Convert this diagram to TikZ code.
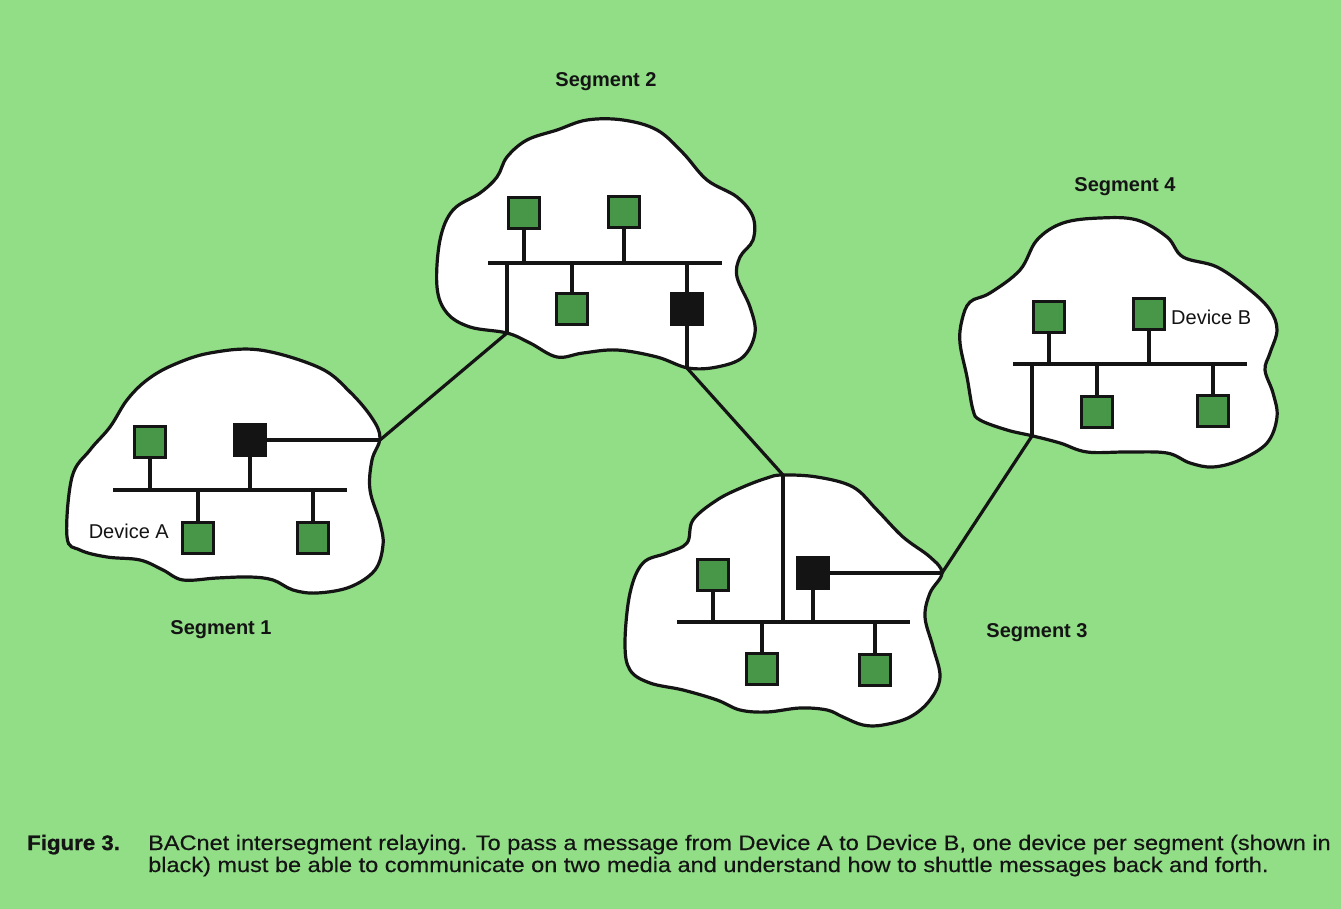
\documentclass[tikz,border=0pt]{standalone}
\usepackage{fontspec}
\setmainfont{Liberation Sans}
\newfontfamily\capfont[FakeStretch=1.12,FakeBold=0.4]{Liberation Sans}
\newfontfamily\capfontb[FakeStretch=1.06,FakeBold=1]{Liberation Sans Bold}
\definecolor{bggreen}{RGB}{145,222,135}
\definecolor{devgreen}{RGB}{72,150,72}
\definecolor{inkc}{RGB}{20,20,20}
\begin{document}
\begin{tikzpicture}[x=1pt,y=-1pt,
  dev/.style={draw=inkc,fill=devgreen,line width=3.2pt,minimum size=31pt,inner sep=0pt},
  relay/.style={dev,fill=inkc},
  cloudline/.style={draw=inkc,fill=white,line width=3.2pt},
  wire/.style={draw=inkc,line width=3.2pt},
  seglabel/.style={font=\bfseries\fontsize{20}{24}\selectfont,text=inkc,inner sep=0pt},
  devlabel/.style={font=\fontsize{20}{24}\selectfont,text=inkc,inner sep=0pt},
  captext/.style={font=\capfont\fontsize{21}{24}\selectfont,text=inkc,inner sep=0pt,anchor=base west}]
\useasboundingbox (0,0) rectangle (1341,909);
\fill[bggreen] (0,0) rectangle (1341,909);

% clouds
\draw[cloudline] plot[smooth cycle,tension=0.6] coordinates {
(67,537) (72,477) (90,450) (110,427) (127,400) (147,380) (173,365) (210,353) (260,350)
(320,368) (350,392) (372,418) (380,438) (372,460) (370,490) (380,523) (383,545) (375,570)
(350,587) (317,593) (293,590) (273,580) (250,577) (217,578) (183,580) (163,570) (140,560)
(107,557) (80,550)};
\draw[cloudline] plot[smooth cycle,tension=0.6] coordinates {
(437,287) (440,240) (453,210) (480,193) (497,177) (507,157) (527,140) (557,130) (587,120)
(623,120) (657,130) (683,153) (707,180) (737,197) (753,217) (753,240) (740,257) (737,277)
(750,307) (755,333) (743,357) (717,367) (688,368) (657,357) (617,350) (583,353) (557,357)
(530,343) (507,333) (470,327) (447,313)};
\draw[cloudline] plot[smooth cycle,tension=0.6] coordinates {
(782,475) (817,477) (853,487) (877,510) (903,537) (930,557) (942,573) (930,593) (925,617)
(933,647) (940,677) (930,700) (910,717) (883,725) (863,725) (843,717) (827,710) (800,708)
(767,712) (740,710) (717,700) (683,690) (650,683) (630,670) (625,643) (630,593) (643,563)
(667,553) (687,543) (693,520) (717,500) (743,487) (767,478)};
\draw[cloudline] plot[smooth cycle,tension=0.6] coordinates {
(1100,218) (1137,220) (1167,237) (1183,257) (1217,267) (1250,290) (1270,310) (1277,330)
(1270,353) (1265,370) (1273,393) (1277,417) (1267,443) (1240,460) (1213,467) (1190,463)
(1167,453) (1127,452) (1087,452) (1060,443) (1033,436) (1007,430) (980,420) (973,410)
(967,377) (960,343) (962,320) (970,302) (990,293) (1020,270) (1037,240) (1063,223)};

% segment 1
\coordinate (b1L) at (113,490); \coordinate (b1R) at (347,490);
\coordinate (c1out) at (380,440);
\node[dev]   (s1a) at (150,442) {};
\node[relay] (s1r) at (250,440) {};
\node[dev]   (s1b) at (198,538) {};
\node[dev]   (s1c) at (313,538) {};
\draw[wire] (b1L) -- (b1R);
\draw[wire] (s1a.south) -- (s1a.south |- b1L);
\draw[wire] (s1r.south) -- (s1r.south |- b1L);
\draw[wire] (s1b.north) -- (s1b.north |- b1L);
\draw[wire] (s1c.north) -- (s1c.north |- b1L);
\draw[wire] (s1r.east) -- (c1out);

% segment 2
\coordinate (b2L) at (488,263); \coordinate (b2R) at (722,263);
\coordinate (c2in) at (507,333); \coordinate (c2out) at (687,368);
\node[dev]   (s2a) at (524,213) {};
\node[dev]   (s2b) at (624,212) {};
\node[dev]   (s2c) at (572,309) {};
\node[relay] (s2r) at (687,309) {};
\draw[wire] (b2L) -- (b2R);
\draw[wire] (s2a.south) -- (s2a.south |- b2L);
\draw[wire] (s2b.south) -- (s2b.south |- b2L);
\draw[wire] (s2c.north) -- (s2c.north |- b2L);
\draw[wire] (s2r.north) -- (s2r.north |- b2L);
\draw[wire] (c2in |- b2L) -- (c2in);
\draw[wire] (s2r.south) -- (c2out);

% segment 3
\coordinate (b3L) at (677,622); \coordinate (b3R) at (910,622);
\coordinate (c3in) at (783,475); \coordinate (c3out) at (942,573);
\node[dev]   (s3a) at (713,575) {};
\node[relay] (s3r) at (813,573) {};
\node[dev]   (s3b) at (762,669) {};
\node[dev]   (s3c) at (875,670) {};
\draw[wire] (b3L) -- (b3R);
\draw[wire] (s3a.south) -- (s3a.south |- b3L);
\draw[wire] (s3r.south) -- (s3r.south |- b3L);
\draw[wire] (s3b.north) -- (s3b.north |- b3L);
\draw[wire] (s3c.north) -- (s3c.north |- b3L);
\draw[wire] (c3in) -- (c3in |- b3L);
\draw[wire] (s3r.east) -- (c3out);

% segment 4
\coordinate (b4L) at (1013,364); \coordinate (b4R) at (1247,364);
\coordinate (c4in) at (1032,436);
\node[dev] (s4a) at (1049,317) {};
\node[dev] (s4b) at (1149,314) {};
\node[dev] (s4c) at (1097,412) {};
\node[dev] (s4d) at (1213,411) {};
\draw[wire] (b4L) -- (b4R);
\draw[wire] (s4a.south) -- (s4a.south |- b4L);
\draw[wire] (s4b.south) -- (s4b.south |- b4L);
\draw[wire] (s4c.north) -- (s4c.north |- b4L);
\draw[wire] (s4d.north) -- (s4d.north |- b4L);
\draw[wire] (c4in |- b4L) -- (c4in);

% inter-segment links
\draw[wire] (c1out) -- (c2in);
\draw[wire] (c2out) -- (c3in);
\draw[wire] (c3out) -- (c4in);

% labels
\node[seglabel] (l2) at (606,82) {Segment 2};
\node[seglabel] (l4) at (1125,187) {Segment 4};
\node[seglabel] (l1) at (221,630) {Segment 1};
\node[seglabel] (l3) at (1037,633) {Segment 3};
\node[devlabel,anchor=east] (da) at (169,531) {Device A};
\node[devlabel,anchor=west] (db) at (1171,317) {Device B};

% caption
\node[captext,font=\capfontb\fontsize{21}{24}\selectfont] (fig) at (27,850) {Figure 3.};
\node[captext] (cap1) at (148,850) {BACnet intersegment relaying. To pass a message from Device A to Device B, one device per segment (shown in};
\node[captext] (cap2) at (148,872) {black) must be able to communicate on two media and understand how to shuttle messages back and forth.};
\end{tikzpicture}
\end{document}
